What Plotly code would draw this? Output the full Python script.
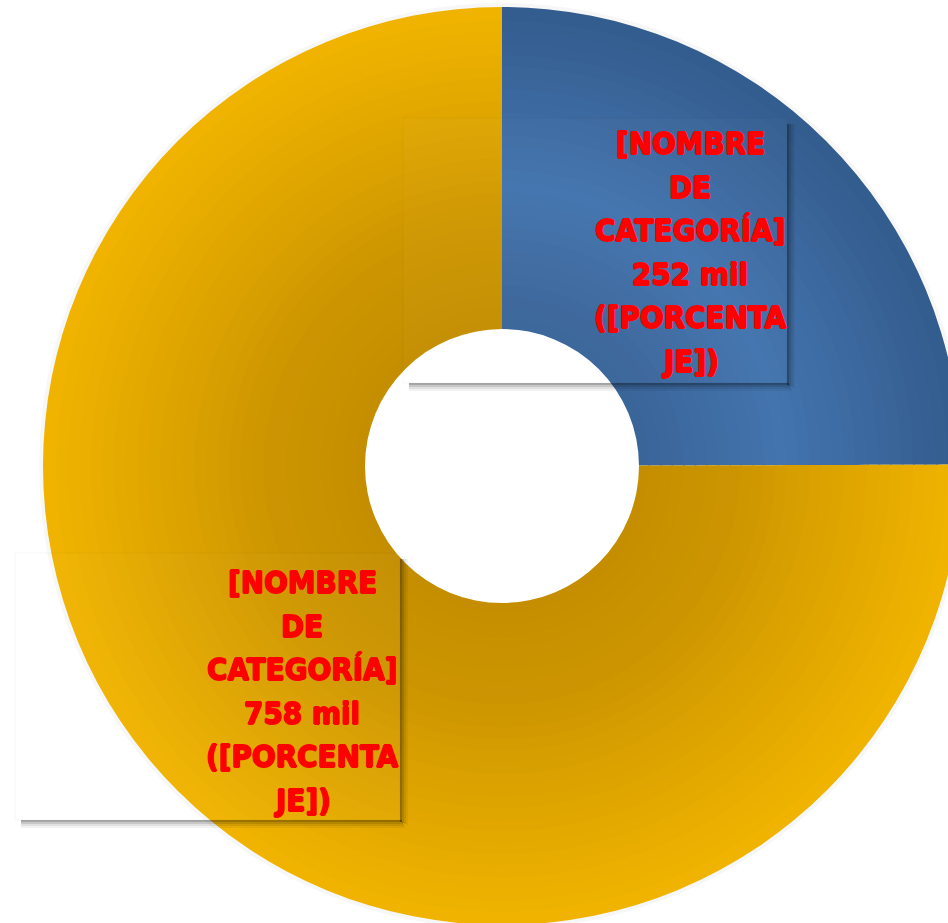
import plotly.graph_objects as go

# ---- data ----
categories = ["[NOMBRE DE CATEGORÍA]", "[NOMBRE DE CATEGORÍA]"]
values = [252, 758]
value_labels = ["252 mil", "758 mil"]
pct_lines = ["([PORCENTA", "JE])"]

# ---- style: radial shading stops (position from inner to outer edge, rgb) ----
blue_stops = [(0.0, (58, 100, 152)), (0.45, (67, 116, 174)), (1.0, (52, 92, 142))]
gold_stops = [(0.0, (196, 142, 0)), (0.3, (204, 149, 0)), (0.6, (220, 163, 0)), (1.0, (240, 180, 0))]


def shade(stops, t):
    for (t0, c0), (t1, c1) in zip(stops[:-1], stops[1:]):
        if t0 <= t <= t1:
            f = (t - t0) / (t1 - t0)
            return "rgb(%d,%d,%d)" % tuple(round(a + (b - a) * f) for a, b in zip(c0, c1))
    return "rgb(%d,%d,%d)" % stops[-1][1]


W, H = 1010, 940
cx, cy, R, r0 = 502, 466, 459, 137
slice_ids = list(range(len(values)))

fig = go.Figure()

# soft outer glow
g = R + 4
fig.add_trace(go.Pie(
    labels=slice_ids, values=values, sort=False, direction="clockwise", hole=(R - 2) / g,
    marker=dict(colors=["rgba(0,0,0,0.03)"] * 2, line=dict(width=0)),
    textinfo="none", hoverinfo="skip", showlegend=False,
    domain=dict(x=[(cx - g) / W, (cx + g) / W], y=[1 - (cy + g) / H, 1 - (cy - g) / H]),
))

n = 28
for i in range(n):
    r_in = r0 + (R - r0) * i / n
    r_out = r0 + (R - r0) * (i + 1) / n
    r_draw = r_in if i == 0 else r_in - 2
    t = (i + 0.5) / n
    fig.add_trace(go.Pie(
        labels=slice_ids, values=values, sort=False, direction="clockwise",
        hole=r_draw / r_out,
        marker=dict(colors=[shade(blue_stops, t), shade(gold_stops, t)], line=dict(width=0)),
        textinfo="none", hoverinfo="skip", showlegend=False,
        domain=dict(x=[(cx - r_out) / W, (cx + r_out) / W],
                    y=[1 - (cy + r_out) / H, 1 - (cy - r_out) / H]),
    ))


def px(x):
    return x / W


def py(y):
    return 1 - y / H


shapes = []
boxes = [(403, 118, 787, 383), (15, 553, 400, 820)]
for (x0, y0, x1, y1) in boxes:
    shapes.append(dict(type="rect", xref="paper", yref="paper", layer="above",
                       x0=px(x0), x1=px(x1), y0=py(y1), y1=py(y0),
                       fillcolor="rgba(255,255,255,0.02)", line=dict(width=1, color="rgba(0,0,0,0.03)")))
    for k, op in enumerate([0.35, 0.22, 0.12, 0.05]):
        shapes.append(dict(type="rect", xref="paper", yref="paper", layer="above",
                           x0=px(x0 + 6), x1=px(x1 + 2 + k), y0=py(y1 + 2 + 2 * k), y1=py(y1 + 2 * k),
                           fillcolor=f"rgba(0,0,0,{op})", line=dict(width=0)))
        shapes.append(dict(type="rect", xref="paper", yref="paper", layer="above",
                           x0=px(x1 + 2 * k), x1=px(x1 + 2 + 2 * k), y0=py(y1 + 2 + k), y1=py(y0 + 6),
                           fillcolor=f"rgba(0,0,0,{op})", line=dict(width=0)))

annotations = []
text_x = [690, 302]
text_top = [143, 582]
line_gap = 43.6
for i in range(2):
    lines = categories[i].split(" ") + [value_labels[i]] + pct_lines
    for j, line in enumerate(lines):
        annotations.append(dict(
            text=line, x=px(text_x[i]), y=py(text_top[i] + j * line_gap), xref="paper", yref="paper",
            xanchor="center", yanchor="middle", showarrow=False,
            font=dict(family="DejaVu Sans Condensed, DejaVu Sans, sans-serif",
                      size=31, color="#ff0000", weight="bold",
                      shadow="0.8px 0 0 #ff0000, -0.8px 0 0 #ff0000, 0 0.6px 0 #ff0000, 0 -0.6px 0 #ff0000"),
        ))

fig.update_layout(
    width=W, height=H, margin=dict(l=0, r=0, t=0, b=0),
    paper_bgcolor="white", plot_bgcolor="white",
    shapes=shapes, annotations=annotations, showlegend=False,
)

fig.write_html("out.html",
               post_script="document.body.style.margin='0';document.body.style.overflow='hidden';"
                           "document.documentElement.style.overflow='hidden';")
